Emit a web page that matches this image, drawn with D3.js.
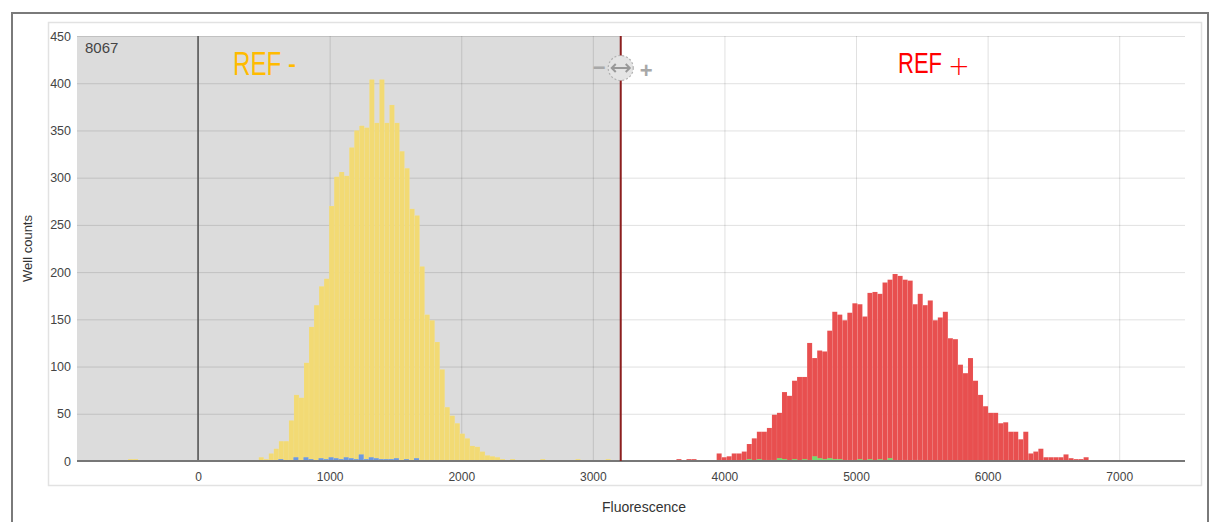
<!DOCTYPE html>
<html>
<head>
<meta charset="utf-8">
<script src="https://cdn.jsdelivr.net/npm/d3@7"></script>
<style>
  body { margin: 0; background: #fff; }
  svg text { font-family: "Liberation Sans", Arial, sans-serif; }
</style>
</head>
<body>
<div id="chart"></div>
<script>
// histogram bins (fluorescence units)
var binWidth = 38.2;
var threshold = 3212;
var totalCount = "8067";

var yellowStart = -532;
var yellowCounts = [2, 2, 0, 0, 0, 0, 0, 0, 0, 0, 0, 0, 0, 0, 0, 0, 0, 0, 0, 0, 0, 0, 0, 0, 0, 0,
  4, 2, 8, 13, 21, 21, 43, 70, 67, 104, 142, 165, 185, 193, 270, 301, 306, 302, 332, 350, 355, 353,
  404, 358, 404, 358, 377, 358, 328, 310, 267, 260, 206, 155, 149, 126, 97, 57, 48, 40, 29, 24, 16,
  15, 10, 6, 5, 4, 2, 1, 2, 1, 1, 0, 1, 1, 2, 1, 0, 1, 1, 0, 1, 2, 1, 1, 0, 1, 1, 2, 1];

var blueStart = 304;
var blueCounts = [1, 0, 1, 1, 0, 1, 1, 1, 2, 1, 1, 4, 1, 4, 2, 1, 3, 2, 4, 3, 2, 4, 3, 2, 7, 2, 4,
  3, 2, 2, 2, 3, 1, 2, 1, 3, 1, 1, 0, 1, 1, 0, 1, 0];

var redStart = 3215;
var redCounts = [1, 1, 0, 1, 0, 0, 1, 0, 0, 1, 0, 2, 1, 2, 2, 1, 1, 0, 1,
  8, 4, 5, 8, 8, 10, 18, 24, 31, 31, 35, 49, 51, 73, 69, 85, 89, 89, 125, 109, 117, 116, 138, 158,
  155, 149, 157, 167, 166, 153, 178, 179, 177, 189, 192, 198, 196, 192, 191, 166, 177, 165, 170,
  149, 152, 158, 130, 129, 102, 93, 109, 85, 70, 58, 51, 51, 40, 41, 31, 31, 23, 31, 8, 10, 13,
  4, 4, 4, 4, 7, 3, 2, 2, 4, 1, 0, 1, 0, 0, 0, 0, 0, 0, 0, 1];

var greenStart = 3941;
var greenCounts = [1, 0, 1, 0, 1, 1, 2, 1, 2, 1, 1, 1, 3, 2, 1, 2, 1, 2, 1, 5, 3, 2, 3, 2, 2, 1, 1,
  1, 2, 1, 2, 1, 2, 1, 3, 1, 0, 1, 0, 1, 1];

var xTicks = [0, 1000, 2000, 3000, 4000, 5000, 6000, 7000];
var yTicks = [0, 50, 100, 150, 200, 250, 300, 350, 400, 450];

var svg = d3.select("#chart").append("svg")
  .attr("width", 1210)
  .attr("height", 522);

// outer frame + chart box
svg.append("rect").attr("x", 12).attr("y", 13).attr("width", 1196).attr("height", 540)
  .attr("fill", "#fff").attr("stroke", "#7a7a7a").attr("stroke-width", 2);
svg.append("rect").attr("x", 48.5).attr("y", 22.5).attr("width", 1153).attr("height", 463)
  .attr("fill", "#fff").attr("stroke", "#e2e2e2").attr("stroke-width", 1.5);

var plotL = 77, plotR = 1185, plotT = 36, plotB = 461;

var x = d3.scaleLinear().domain([-920, 7500]).range([plotL, plotR]);
var y = d3.scaleLinear().domain([0, 450]).range([plotB, plotT]);

// negative region shading
svg.append("rect")
  .attr("x", plotL).attr("y", plotT)
  .attr("width", x(threshold) - plotL).attr("height", plotB - plotT)
  .attr("fill", "#dcdcdc");

// grid
svg.append("g")
  .attr("transform", "translate(" + plotL + ",0)")
  .call(d3.axisLeft(y).tickValues(yTicks).tickSize(-(plotR - plotL)).tickFormat(""))
  .call(function(g) { g.select(".domain").remove() })
  .selectAll("line").attr("stroke", "#000").attr("stroke-opacity", 0.12);

svg.append("g")
  .attr("transform", "translate(0," + plotB + ")")
  .call(d3.axisBottom(x).tickValues(xTicks.slice(1)).tickSize(-(plotB - plotT)).tickFormat(""))
  .call(function(g) { g.select(".domain").remove() })
  .selectAll("line").attr("stroke", "#000").attr("stroke-opacity", 0.12);

// zero line
svg.append("line")
  .attr("x1", x(0)).attr("x2", x(0)).attr("y1", plotT).attr("y2", plotB)
  .attr("stroke", "#555").attr("stroke-width", 1.6);

function drawBars(start, counts, color) {
  var bw = x(binWidth) - x(0);
  svg.append("g").selectAll("rect")
    .data(counts)
    .enter()
    .append("rect")
    .attr("x", function(d, i) { return x(start + i * binWidth) })
    .attr("y", function(d) { return y(d) })
    .attr("width", bw)
    .attr("height", function(d) { return plotB - y(d) })
    .attr("fill", color)
    .attr("stroke", "#fff")
    .attr("stroke-opacity", 0.12)
    .attr("stroke-width", 0.5);
}

drawBars(yellowStart, yellowCounts, "#f2da74");
drawBars(blueStart, blueCounts, "#6b98e2");
drawBars(redStart, redCounts, "#e84f4f");
drawBars(greenStart, greenCounts, "#72dd6e");

// baseline
svg.append("line")
  .attr("x1", plotL).attr("x2", plotR).attr("y1", plotB).attr("y2", plotB)
  .attr("stroke", "#777").attr("stroke-width", 2);

// axes labels
var xAxis = svg.append("g")
  .attr("transform", "translate(0," + plotB + ")")
  .call(d3.axisBottom(x).tickValues(xTicks).tickSize(0).tickPadding(11).tickFormat(d3.format("d")));
xAxis.select(".domain").remove();
xAxis.selectAll("text").attr("font-size", 12).attr("fill", "#444")
  .attr("font-family", "'Liberation Sans', Arial, sans-serif");

var yAxis = svg.append("g")
  .attr("transform", "translate(" + (plotL - 6) + ",0)")
  .call(d3.axisLeft(y).tickValues(yTicks).tickSize(0).tickPadding(0));
yAxis.select(".domain").remove();
yAxis.selectAll("text").attr("font-size", 12.5).attr("fill", "#444")
  .attr("font-family", "'Liberation Sans', Arial, sans-serif");

svg.append("text")
  .attr("transform", "translate(32," + ((plotT + plotB) / 2) + ") rotate(-90)")
  .attr("text-anchor", "middle")
  .attr("font-size", 13).attr("fill", "#333")
  .text("Well counts");

svg.append("text")
  .attr("x", (plotL + plotR) / 2 + 13).attr("y", 512)
  .attr("text-anchor", "middle")
  .attr("font-size", 14).attr("fill", "#333")
  .text("Fluorescence");

svg.append("text")
  .attr("x", 85).attr("y", 53)
  .attr("font-size", 15).attr("fill", "#444")
  .text(totalCount);

// REF labels
svg.append("text")
  .attr("x", 233).attr("y", 75)
  .attr("font-size", 34).attr("fill", "#ffbb00")
  .attr("font-family", "'Liberation Sans Narrow', 'Liberation Sans', sans-serif")
  .attr("textLength", 63).attr("lengthAdjust", "spacingAndGlyphs")
  .text("REF -");

var refPlus = svg.append("text")
  .attr("x", 898).attr("y", 73)
  .attr("fill", "#ff0000");
refPlus.append("tspan")
  .attr("font-size", 30)
  .attr("font-family", "'Liberation Sans Narrow', 'Liberation Sans', sans-serif")
  .attr("textLength", 44).attr("lengthAdjust", "spacingAndGlyphs")
  .text("REF");
refPlus.append("tspan")
  .attr("x", 948).attr("y", 75)
  .attr("font-size", 26)
  .attr("font-family", "'DejaVu Sans ExtraLight', 'DejaVu Sans', sans-serif").attr("font-weight", 200)
  .text("+");

// threshold line and handle
var tx = x(threshold);
svg.append("line")
  .attr("x1", tx).attr("x2", tx).attr("y1", plotT).attr("y2", plotB)
  .attr("stroke", "#8c1f1f").attr("stroke-width", 2);

var hy = 68;
svg.append("circle")
  .attr("cx", tx).attr("cy", hy).attr("r", 12.5)
  .attr("fill", "#e4e4e4").attr("stroke", "#b0b0b0")
  .attr("stroke-width", 1.2).attr("stroke-dasharray", "2,2");
svg.append("path")
  .attr("d", "M" + (tx - 9) + "," + hy + "H" + (tx + 9)
    + "M" + (tx - 5) + "," + (hy - 4) + "L" + (tx - 9) + "," + hy + "L" + (tx - 5) + "," + (hy + 4)
    + "M" + (tx + 5) + "," + (hy - 4) + "L" + (tx + 9) + "," + hy + "L" + (tx + 5) + "," + (hy + 4))
  .attr("fill", "none").attr("stroke", "#999").attr("stroke-width", 2);

svg.append("text")
  .attr("x", tx - 28).attr("y", hy + 7)
  .attr("font-size", 22).attr("font-weight", "bold").attr("fill", "#a8a8a8")
  .text("\u2212");
svg.append("text")
  .attr("x", tx + 19).attr("y", hy + 10)
  .attr("font-size", 22).attr("font-weight", "bold").attr("fill", "#a8a8a8")
  .text("+");
</script>
</body>
</html>
